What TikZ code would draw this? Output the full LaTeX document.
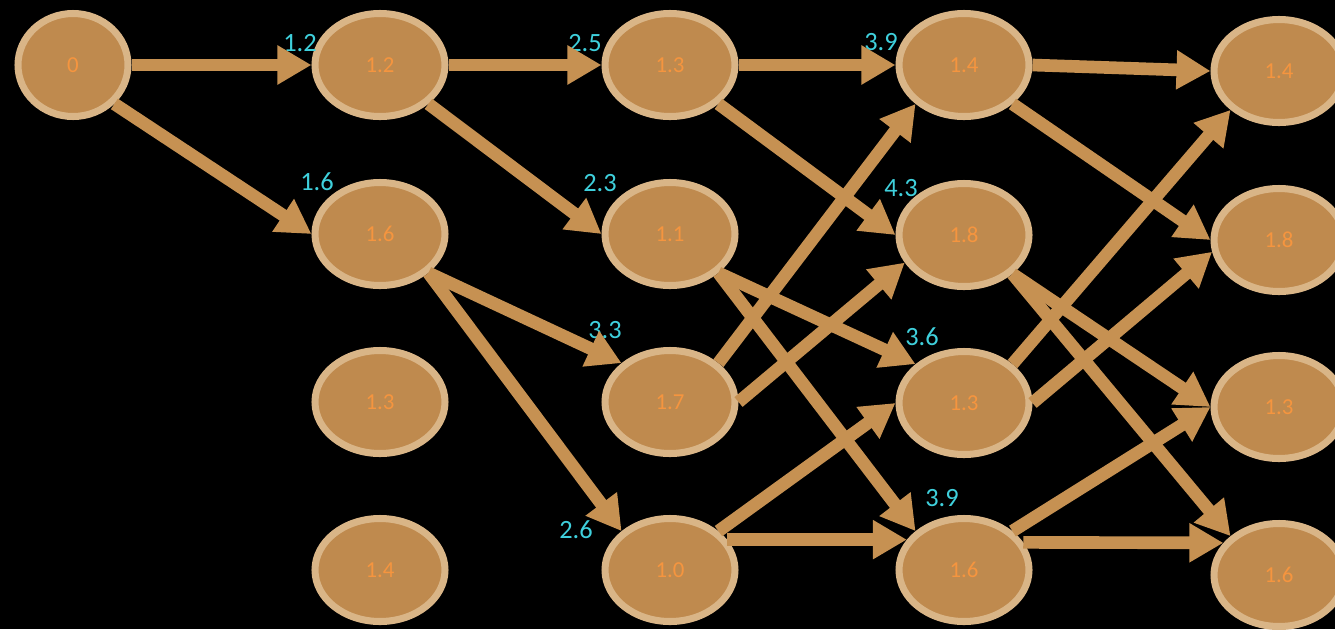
\documentclass[tikz,border=0pt]{standalone}
\usepackage{fontspec}
\setmainfont{Carlito}
\usetikzlibrary{shapes.geometric, arrows.meta, positioning}
\definecolor{nodefill}{HTML}{BF8A4E}
\definecolor{nodeline}{HTML}{D9B587}
\definecolor{arrowcol}{HTML}{C69152}
\definecolor{valtext}{HTML}{F5953F}
\definecolor{costtext}{HTML}{3FD0DC}

\begin{document}
\begin{tikzpicture}[
    state/.style={ellipse, draw=nodeline, fill=nodefill, line width=4pt, minimum width=2.6cm, minimum height=2.06cm, text=valtext, font=\fontsize{13}{15}\selectfont},
    startstate/.style={state, minimum width=2.2cm},
    cost/.style={text=costtext, font=\fontsize{15}{17}\selectfont, inner sep=0pt},
    arr/.style={-{Triangle[length=6.8mm, width=7.4mm]}, line width=7.2pt, draw=arrowcol}
]
\fill[black] (0,0) rectangle (26.7,-12.58);
\useasboundingbox (0,0) rectangle (26.7,-12.58);

% stages
\node[startstate] (s0) at (1.46,-1.30) {0};

\node[state] (s1a) at (7.60,-1.30) {1.2};
\node[state] (s1b) at (7.60,-4.68) {1.6};
\node[state] (s1c) at (7.60,-8.04) {1.3};
\node[state] (s1d) at (7.60,-11.40) {1.4};

\node[state] (s2a) at (13.40,-1.30) {1.3};
\node[state] (s2b) at (13.40,-4.68) {1.1};
\node[state] (s2c) at (13.40,-8.04) {1.7};
\node[state] (s2d) at (13.40,-11.40) {1.0};

\node[state] (s3a) at (19.28,-1.30) {1.4};
\node[state] (s3b) at (19.28,-4.70) {1.8};
\node[state] (s3c) at (19.28,-8.06) {1.3};
\node[state] (s3d) at (19.28,-11.40) {1.6};

\node[state] (s4a) at (25.58,-1.42) {1.4};
\node[state] (s4b) at (25.58,-4.80) {1.8};
\node[state] (s4c) at (25.58,-8.14) {1.3};
\node[state] (s4d) at (25.58,-11.50) {1.6};

% path costs
\node[cost] (w1) at (6.00,-0.86) {1.2};
\node[cost] (w2) at (6.34,-3.64) {1.6};
\node[cost] (w3) at (11.70,-0.86) {2.5};
\node[cost] (w4) at (12.00,-3.66) {2.3};
\node[cost] (w5) at (12.10,-6.60) {3.3};
\node[cost] (w6) at (11.52,-10.60) {2.6};
\node[cost] (w7) at (17.62,-0.84) {3.9};
\node[cost] (w8) at (18.02,-3.76) {4.3};
\node[cost] (w9) at (18.44,-6.74) {3.6};
\node[cost] (w10) at (18.84,-9.96) {3.9};

% transitions
\draw[arr] (s0.east) -- (s1a.west);
\draw[arr] (s0.south east) -- (s1b.west);

\draw[arr] (s1a.east) -- (s2a.west);
\draw[arr] (s1a.south east) -- (s2b.west);
\draw[arr] (s1b.south east) -- (s2c.north west);
\draw[arr] (s1b.south east) -- (s2d.north west);

\draw[arr] (s2a.east) -- (s3a.west);
\draw[arr] (s2a.south east) -- (s3b.west);
\draw[arr] (s2b.south east) -- (s3c.north west);
\draw[arr] (s2b.south east) -- (s3d.north west);
\draw[arr] (s2c.north east) -- (s3a.south west);
\draw[arr] (s2c.east) -- (s3b.205);
\draw[arr] (s2d.north east) -- (s3c.west);
\draw[arr] (s2d.28) -- (s3d.152);

\draw[arr] (s3a.east) -- (s4a.west);
\draw[arr] (s3a.south east) -- (s4b.west);
\draw[arr] (s3b.south east) -- (s4c.west);
\draw[arr] (s3b.south east) -- (s4d.north west);
\draw[arr] (s3c.north east) -- (s4a.south west);
\draw[arr] (s3c.east) -- (s4b.190);
\draw[arr] (s3d.north east) -- (s4c.west);
\draw[arr] (s3d.25) -- (s4d.150);

\end{tikzpicture}
\end{document}
